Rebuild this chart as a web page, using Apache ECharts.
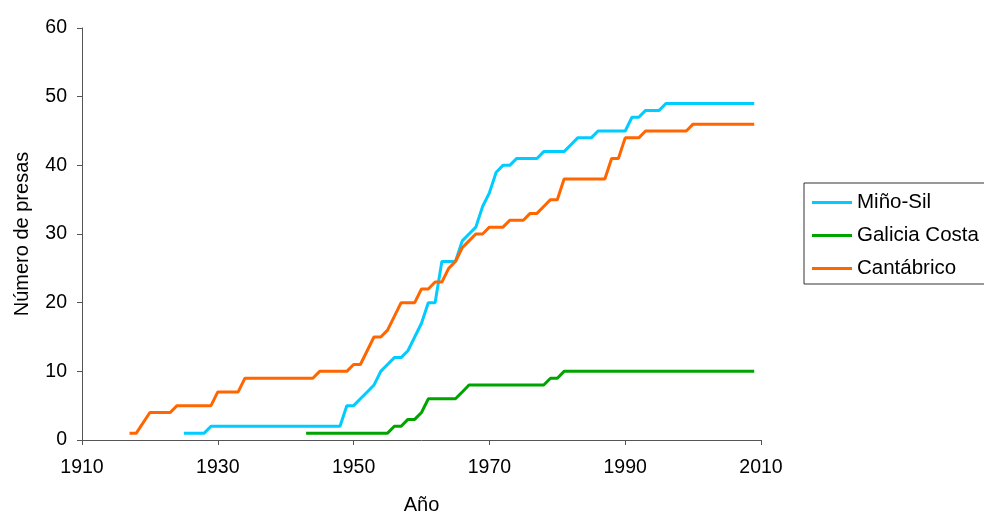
<!DOCTYPE html>
<html>
<head>
<meta charset="utf-8">
<script src="https://cdn.jsdelivr.net/npm/echarts@6/dist/echarts.min.js"></script>
<style>
html,body{margin:0;padding:0;background:#fff;}
#chart{width:984px;height:515px;}
</style>
</head>
<body>
<div id="chart"></div>
<script>
// Data
const seriesNames = ['Miño-Sil', 'Galicia Costa', 'Cantábrico'];

const minoSilYears = [1925,1928,1929,1948,1949,1950,1951,1952,1953,1954,1955,1956,1957,1958,1959,1960,1961,1962,1963,1965,1966,1967,1968,1969,1970,1971,1972,1973,1974,1977,1978,1981,1982,1983,1985,1986,1990,1991,1992,1993,1995,1996,2009];
const minoSilValues = [1,1,2,2,5,5,6,7,8,10,11,12,12,13,15,17,20,20,26,26,29,30,31,34,36,39,40,40,41,41,42,42,43,44,44,45,45,47,47,48,48,49,49];

const galiciaYears = [1943,1955,1956,1957,1958,1959,1960,1961,1965,1966,1967,1978,1979,1980,1981,2009];
const galiciaValues = [1,1,2,2,3,3,4,6,6,7,8,8,9,9,10,10];

const cantabricoYears = [1917,1918,1920,1923,1924,1929,1930,1933,1934,1944,1945,1949,1950,1951,1952,1953,1954,1955,1956,1957,1959,1960,1961,1962,1963,1964,1965,1966,1967,1968,1969,1970,1972,1973,1975,1976,1977,1978,1979,1980,1981,1987,1988,1989,1990,1992,1993,1999,2000,2009];
const cantabricoValues = [1,1,4,4,5,5,7,7,9,9,10,10,11,11,13,15,15,16,18,20,20,22,22,23,23,25,26,28,29,30,30,31,31,32,32,33,33,34,35,35,38,38,41,41,44,44,45,45,46,46];

const xTicks = [1910, 1930, 1950, 1970, 1990, 2010];
const yTicks = [0, 10, 20, 30, 40, 50, 60];

function pairs(xs, ys) { return xs.map((x, i) => [x, ys[i]]); }

const FONT = "'Liberation Sans', Arial, sans-serif";
const colors = ['#00CCFF', '#00A400', '#FF6600'];
const dataSets = [pairs(minoSilYears, minoSilValues), pairs(galiciaYears, galiciaValues), pairs(cantabricoYears, cantabricoValues)];

const chart = echarts.init(document.getElementById('chart'), null, {renderer: 'canvas'});
chart.setOption({
  animation: false,
  backgroundColor: '#fff',
  textStyle: {fontFamily: FONT},
  grid: {left: 82, right: 223, top: 28, bottom: 75, containLabel: false, outerBoundsMode: 'none'},
  legend: {
    orient: 'vertical',
    left: 804, top: 183,
    icon: 'rect',
    itemWidth: 40, itemHeight: 3, itemGap: 12,
    padding: [9, 40, 5, 8],
    borderColor: '#333', borderWidth: 1,
    textStyle: {fontSize: 20.5, color: '#000', fontFamily: FONT},
    data: seriesNames
  },
  xAxis: {
    type: 'value',
    min: xTicks[0], max: xTicks[xTicks.length - 1], interval: 20,
    splitLine: {show: false},
    axisLine: {show: true, lineStyle: {color: '#555', width: 1}},
    axisTick: {show: true, length: 5, lineStyle: {color: '#555'}},
    axisLabel: {fontSize: 19.5, color: '#000', margin: 18, fontFamily: FONT,
      formatter: v => String(v)},
    name: 'Año', nameLocation: 'middle', nameGap: 55,
    nameTextStyle: {fontSize: 20, color: '#000', fontFamily: FONT}
  },
  yAxis: {
    type: 'value',
    min: yTicks[0], max: yTicks[yTicks.length - 1], interval: 10,
    splitLine: {show: false},
    axisLine: {show: true, lineStyle: {color: '#555', width: 1}},
    axisTick: {show: true, length: 5, lineStyle: {color: '#555'}},
    axisLabel: {fontSize: 19.5, color: '#000', margin: 15, fontFamily: FONT},
    name: 'Número de presas', nameLocation: 'middle', nameGap: 50, nameRotate: 90,
    nameTextStyle: {fontSize: 20, color: '#000', fontFamily: FONT}
  },
  series: seriesNames.map((n, i) => ({
    name: n,
    type: 'line',
    data: dataSets[i],
    symbol: 'none',
    showSymbol: false,
    color: colors[i],
    lineStyle: {width: 3, color: colors[i]}
  }))
});
</script>
</body>
</html>
